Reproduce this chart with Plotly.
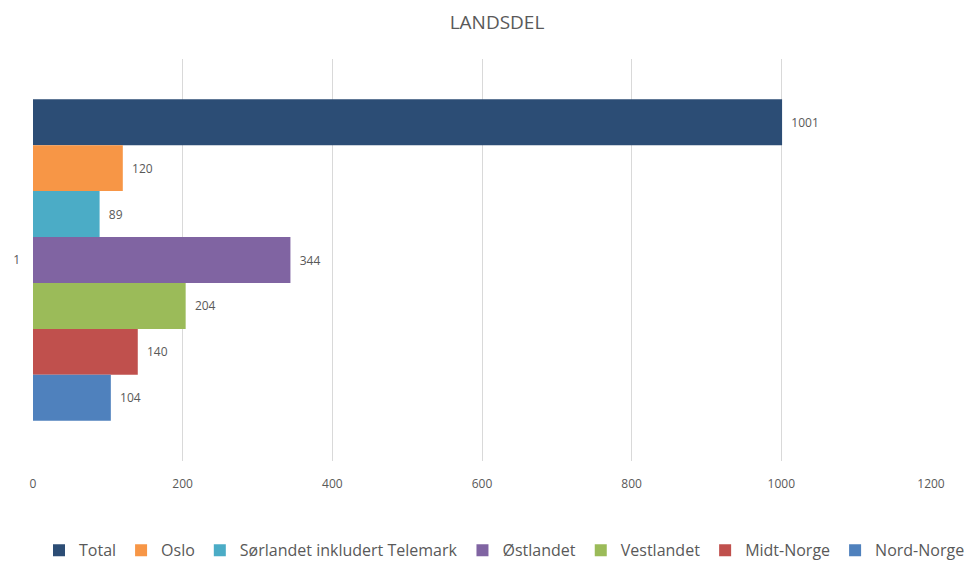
import plotly.graph_objects as go

categories = ["1"]
series_names = ["Total", "Oslo", "Sørlandet inkludert Telemark", "Østlandet",
                "Vestlandet", "Midt-Norge", "Nord-Norge"]
series_values = [1001, 120, 89, 344, 204, 140, 104]
series_colors = ["#2c4d75", "#f79646", "#4bacc6", "#8064a2", "#9bbb59", "#c0504d", "#4f81bd"]
x_ticks = [0, 200, 400, 600, 800, 1000, 1200]

fig = go.Figure()
for name, val, col in zip(series_names, series_values, series_colors):
    fig.add_trace(go.Bar(
        y=categories, x=[val], name=name, orientation="h",
        marker=dict(color=col, line=dict(width=0)),
        texttemplate="  %{x}", textposition="outside", cliponaxis=False,
        textfont=dict(family="Open Sans", size=12, color="#595959"),
    ))

# page body adds an 8px offset; figure is sized to fit the 973x562 window
W, H = 965, 554
fig.update_layout(
    width=W, height=H,
    margin=dict(l=25, r=42, t=51, b=101, autoexpand=False),
    paper_bgcolor="white", plot_bgcolor="white",
    barmode="group", bargap=0.2, bargroupgap=0,
    title=dict(text="LANDSDEL", x=489 / W, xanchor="center", y=1 - 14 / H, yanchor="middle",
               font=dict(family="Open Sans", size=19, color="#595959")),
    xaxis=dict(range=[0, 1200], tickvals=x_ticks, ticktext=[str(t) for t in x_ticks],
               showgrid=True, gridcolor="#d9d9d9", gridwidth=1, zeroline=False,
               showline=False, ticks="", ticklabelstandoff=14, automargin=False,
               tickfont=dict(family="Open Sans", size=12, color="#595959")),
    yaxis=dict(type="category", autorange="reversed", showgrid=False, zeroline=False,
               showline=False, ticks="", ticklabelstandoff=12, automargin=False,
               tickfont=dict(family="Open Sans", size=12, color="#595959")),
    legend=dict(orientation="h", x=(962 - 25) / 898, xanchor="right", y=-0.222, yanchor="middle",
                font=dict(family="Open Sans", size=16, color="#595959"),
                itemwidth=30, tracegroupgap=0),
    showlegend=True,
)

fig.write_html("out.html")
